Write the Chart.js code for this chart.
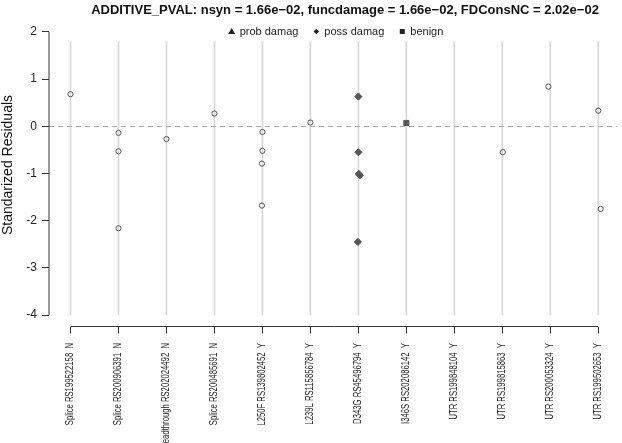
<!DOCTYPE html>
<html>
<head>
<title>Standarized Residuals</title>
<script src="https://cdn.jsdelivr.net/npm/chart.js"></script>
<style>
  body { margin: 0; background: #fff; }
  #wrap { width: 622px; height: 443px; }
</style>
</head>
<body>
<div id="wrap"><canvas id="chart"></canvas></div>
<script>
// data
const titleText = 'ADDITIVE_PVAL: nsyn = 1.66e\u221202, funcdamage = 1.66e\u221202, FDConsNC = 2.02e\u221202';
const yTitle = 'Standarized Residuals';
const categories = [
  'Splice RS199522158  N', 'Splice RS200906391  N', 'Readthrough RS202024492  N',
  'Splice RS200485691  N', 'L250F RS139802452  Y', 'L239L RS115856784  Y',
  'D343G RS45496794  Y', 'I346S RS202086142  Y', 'UTR RS199848104  Y',
  'UTR RS199815863  Y', 'UTR RS200053324  Y', 'UTR RS199502653  Y'
];
const yTicks = [2, 1, 0, -1, -2, -3, -4];

// open circles (no damage prediction)
const otherX = [1, 2, 2, 2, 3, 4, 5, 5, 4.99, 4.99, 6, 10.01, 10.96, 12, 12.05];
const otherY = [0.68, -0.14, -0.53, -2.16, -0.27, 0.27, -0.12, -0.52, -0.79, -1.68, 0.08, -0.55, 0.84, 0.33, -1.75];
// poss damag
const possX = [7, 7, 7.01, 7.03, 6.99];
const possY = [0.63, -0.55, -1.01, -1.04, -2.45];
// benign
const benignX = [8];
const benignY = [0.07];
// prob damag (none)
const probX = [];
const probY = [];

const legendLabels = ['prob damag', 'poss damag', 'benign'];
const legendShapes = ['triangle', 'diamond', 'square'];

const FONT = "'Liberation Sans', Arial, sans-serif";
const MARK = '#555555';

function pts(xs, ys) {
  return xs.map((x, i) => ({ x: x, y: ys[i] }));
}

// stems, zero line, R-style axes, narrow labels, title and in-plot legend
const rPlot = {
  id: 'rPlot',
  beforeDatasetsDraw(chart) {
    const ctx = chart.ctx;
    const xs = chart.scales.x, ys = chart.scales.y;
    const area = chart.chartArea;
    ctx.save();
    // vertical stems
    ctx.strokeStyle = '#d6d6d6';
    ctx.lineWidth = 1.6;
    categories.forEach((c, i) => {
      const px = xs.getPixelForValue(i + 1);
      ctx.beginPath();
      ctx.moveTo(px, ys.getPixelForValue(-4));
      ctx.lineTo(px, ys.getPixelForValue(1.8));
      ctx.stroke();
    });
    // dashed zero line
    ctx.strokeStyle = '#a8a8a8';
    ctx.lineWidth = 1;
    ctx.setLineDash([5, 4]);
    const y0 = Math.round(ys.getPixelForValue(0)) + 0.5;
    ctx.beginPath();
    ctx.moveTo(area.left, y0);
    ctx.lineTo(area.right, y0);
    ctx.stroke();
    ctx.setLineDash([]);
    // axis lines only between first and last tick
    ctx.strokeStyle = '#333';
    ctx.beginPath();
    ctx.moveTo(xs.getPixelForValue(1), area.bottom);
    ctx.lineTo(xs.getPixelForValue(categories.length), area.bottom);
    ctx.moveTo(area.left, ys.getPixelForValue(yTicks[0]));
    ctx.lineTo(area.left, ys.getPixelForValue(yTicks[yTicks.length - 1]));
    ctx.stroke();
    ctx.restore();
  },
  afterDraw(chart) {
    const ctx = chart.ctx;
    const xs = chart.scales.x;
    const area = chart.chartArea;
    ctx.save();
    ctx.fillStyle = '#111';

    // title
    ctx.font = 'bold 13px ' + FONT;
    ctx.textAlign = 'center';
    ctx.textBaseline = 'middle';
    ctx.fillText(titleText, 345, 10.5);

    // y axis title
    ctx.save();
    ctx.font = '14px ' + FONT;
    ctx.translate(8, 165);
    ctx.rotate(-Math.PI / 2);
    ctx.fillText(yTitle, 0, 0);
    ctx.restore();

    // x tick labels, vertical and condensed
    ctx.font = '10px ' + FONT;
    ctx.fillStyle = '#222';
    ctx.textAlign = 'right';
    categories.forEach((c, i) => {
      const px = xs.getPixelForValue(i + 1);
      ctx.save();
      ctx.translate(px, area.bottom + 16.5);
      ctx.rotate(-Math.PI / 2);
      ctx.scale(0.77, 1);
      ctx.fillText(c, 0, 0);
      ctx.restore();
    });

    // legend
    ctx.font = '11px ' + FONT;
    ctx.textAlign = 'left';
    const mark = 6, gap = 5, sep = 15;
    const widths = legendLabels.map(t => ctx.measureText(t).width);
    const total = widths.reduce((a, w) => a + mark + gap + w, 0) + sep * (legendLabels.length - 1);
    let x = (area.left + area.right) / 2 + 3 - total / 2;
    const y = 31.5;
    ctx.fillStyle = '#222';
    legendLabels.forEach((t, i) => {
      const cx = x + mark / 2;
      ctx.beginPath();
      if (legendShapes[i] === 'triangle') {
        ctx.moveTo(cx, y - 3.5); ctx.lineTo(cx + 3.5, y + 2.5); ctx.lineTo(cx - 3.5, y + 2.5);
      } else if (legendShapes[i] === 'diamond') {
        ctx.moveTo(cx, y - 2.8); ctx.lineTo(cx + 2.8, y); ctx.lineTo(cx, y + 2.8); ctx.lineTo(cx - 2.8, y);
      } else {
        ctx.rect(cx - 2.5, y - 2.5, 5, 5);
      }
      ctx.closePath();
      ctx.fill();
      ctx.fillText(t, x + mark + gap, y);
      x += mark + gap + widths[i] + sep;
    });
    ctx.restore();
  }
};

const ctx = document.getElementById('chart').getContext('2d');
new Chart(ctx, {
  type: 'scatter',
  data: {
    datasets: [
      {
        label: 'other',
        data: pts(otherX, otherY),
        pointStyle: 'circle',
        pointRadius: 2.6,
        borderWidth: 1,
        borderColor: MARK,
        backgroundColor: 'rgba(255,255,255,0)'
      },
      {
        label: 'prob damag',
        data: pts(probX, probY),
        pointStyle: 'triangle',
        pointRadius: 3.5,
        borderColor: MARK,
        backgroundColor: MARK
      },
      {
        label: 'poss damag',
        data: pts(possX, possY),
        pointStyle: 'rectRot',
        pointRadius: 3.6,
        borderWidth: 1,
        borderColor: MARK,
        backgroundColor: MARK
      },
      {
        label: 'benign',
        data: pts(benignX, benignY),
        pointStyle: 'rect',
        pointRadius: 3.6,
        borderWidth: 1,
        borderColor: MARK,
        backgroundColor: MARK
      }
    ]
  },
  options: {
    responsive: true,
    maintainAspectRatio: false,
    animation: false,
    layout: { padding: { top: 20.5, right: 0, bottom: 0, left: 0 } },
    plugins: {
      legend: { display: false },
      tooltip: { enabled: false },
      title: { display: false }
    },
    scales: {
      x: {
        type: 'linear',
        min: 0.552,
        max: 12.39,
        afterBuildTicks: s => { s.ticks = categories.map((c, i) => ({ value: i + 1 })); },
        afterFit: s => { s.height = 116.5; },
        border: { display: false },
        grid: { drawOnChartArea: false, drawTicks: true, tickLength: 7, color: '#333' },
        ticks: { display: false }
      },
      y: {
        type: 'linear',
        min: -4.24,
        max: 2.24,
        afterBuildTicks: s => { s.ticks = yTicks.map(v => ({ value: v })); },
        afterFit: s => { s.width = 49; },
        border: { display: false },
        grid: { drawOnChartArea: false, drawTicks: true, tickLength: 7, color: '#333' },
        ticks: {
          padding: 5,
          color: '#222',
          font: { family: FONT, size: 12 },
          callback: v => String(v)
        }
      }
    }
  },
  plugins: [rPlot]
});
</script>
</body>
</html>
